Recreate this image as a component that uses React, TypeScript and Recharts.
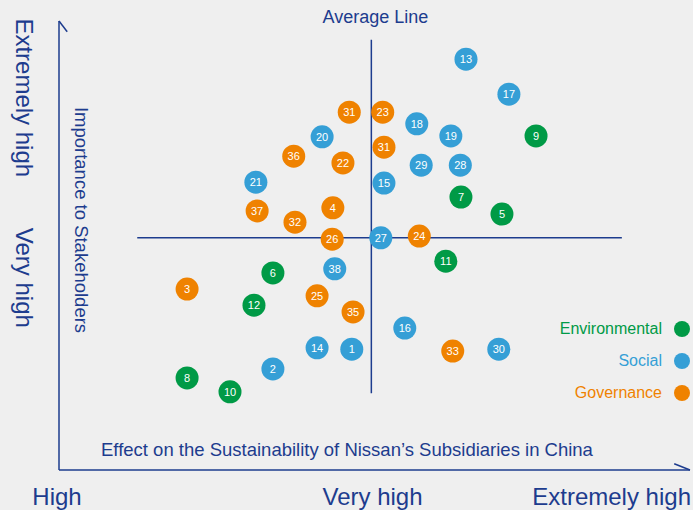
import { ScatterChart, Scatter, XAxis, YAxis, ReferenceLine, Legend } from 'recharts'

const NAVY = '#1d3c8e'
const FONT = '"Liberation Sans", Arial, sans-serif'

// issue number, effect on subsidiaries (x), importance to stakeholders (y), 0-100 scale
const environmental = [
  { id: 9, x: 75.6, y: 74.4 },
  { id: 7, x: 63.7, y: 60.8 },
  { id: 5, x: 70.2, y: 57.0 },
  { id: 11, x: 61.3, y: 46.5 },
  { id: 6, x: 33.9, y: 43.9 },
  { id: 12, x: 30.9, y: 36.7 },
  { id: 8, x: 20.3, y: 20.5 },
  { id: 10, x: 27.1, y: 17.4 },
]

const social = [
  { id: 13, x: 64.5, y: 91.5 },
  { id: 17, x: 71.3, y: 83.7 },
  { id: 18, x: 56.7, y: 77.1 },
  { id: 19, x: 62.1, y: 74.4 },
  { id: 20, x: 41.7, y: 74.2 },
  { id: 29, x: 57.4, y: 67.9 },
  { id: 28, x: 63.6, y: 67.9 },
  { id: 21, x: 31.2, y: 64.1 },
  { id: 15, x: 51.5, y: 63.9 },
  { id: 27, x: 51.0, y: 51.7 },
  { id: 38, x: 43.7, y: 44.8 },
  { id: 16, x: 54.8, y: 31.6 },
  { id: 14, x: 40.9, y: 27.2 },
  { id: 1, x: 46.4, y: 26.9 },
  { id: 30, x: 69.7, y: 26.9 },
  { id: 2, x: 33.9, y: 22.5 },
]

const governance = [
  { id: 31, x: 46.0, y: 79.7 },
  { id: 23, x: 51.3, y: 79.7 },
  { id: 31, x: 51.5, y: 71.9 },
  { id: 36, x: 37.2, y: 69.9 },
  { id: 22, x: 45.0, y: 68.4 },
  { id: 37, x: 31.4, y: 57.7 },
  { id: 4, x: 43.4, y: 58.4 },
  { id: 32, x: 37.4, y: 55.2 },
  { id: 26, x: 43.3, y: 51.4 },
  { id: 24, x: 57.1, y: 52.1 },
  { id: 3, x: 20.3, y: 40.3 },
  { id: 25, x: 40.9, y: 38.8 },
  { id: 35, x: 46.6, y: 35.2 },
  { id: 33, x: 62.4, y: 26.5 },
]

const seriesNames = ['Environmental', 'Social', 'Governance']
const seriesColors = ['#009a46', '#359fd6', '#ef8200']

const xTicks = [0, 50, 100]
const xTickLabels = ['High', 'Very high', 'Extremely high']
const yTicks = [42.8, 82.9]
const yTickLabels = ['Very high', 'Extremely high']

// average lines
const avgX = 49.5
const avgY = 51.7
const avgXRange = [17.1, 95.8]
const avgYRange = [12.4, 89.2]

const Bubble = (color: string) => (props: any) => {
  const { cx, cy, payload } = props
  return (
    <g>
      <circle cx={cx} cy={cy} r={11.5} fill={color} />
      <text
        x={cx}
        y={cy + 4}
        textAnchor="middle"
        fill="#fff"
        fontSize={11}
        fontFamily='"Liberation Sans Narrow", "Liberation Sans", sans-serif'
      >
        {payload.id}
      </text>
    </g>
  )
}

const XTick = (props: any) => {
  const { x, y, index } = props
  const last = index === xTickLabels.length - 1
  return (
    <text
      x={last ? x + 10 : x - 2}
      y={y + 33}
      textAnchor={last ? 'end' : 'middle'}
      fill={NAVY}
      fontSize={24}
      fontFamily={FONT}
    >
      {xTickLabels[index]}
    </text>
  )
}

const YTick = (props: any) => {
  const { y, index } = props
  return (
    <text
      x={16}
      y={y}
      textAnchor="middle"
      fill={NAVY}
      fontSize={24}
      fontFamily={FONT}
      transform={`rotate(90, 16, ${y})`}
    >
      {yTickLabels[index]}
    </text>
  )
}

const renderLegend = () => (
  <div style={{ display: 'flex', flexDirection: 'column', alignItems: 'flex-end' }}>
    {seriesNames.map((name, i) => (
      <div
        key={name}
        style={{ height: 32, display: 'flex', alignItems: 'center', fontFamily: FONT, fontSize: 16 }}
      >
        <span style={{ color: seriesColors[i] }}>{name}</span>
        <span
          style={{ width: 16, height: 16, borderRadius: 8, background: seriesColors[i], marginLeft: 12 }}
        />
      </div>
    ))}
  </div>
)

export default function App() {
  return (
    <div
      style={{
        position: 'absolute',
        left: 0,
        top: 0,
        width: 693,
        height: 510,
        background: '#efefef',
        fontFamily: FONT,
      }}
    >
      <ScatterChart width={693} height={510} margin={{ top: 21, right: 3, left: 0, bottom: 0 }}>
        <XAxis
          type="number"
          dataKey="x"
          domain={[0, 100]}
          ticks={xTicks}
          height={40}
          tickSize={0}
          tickLine={false}
          axisLine={{ stroke: NAVY, strokeWidth: 1.5 }}
          tick={<XTick />}
          label={{
            content: ({ viewBox }: any) => (
              <text x={viewBox.x + 42} y={viewBox.y - 14} fill={NAVY} fontSize={18.5} fontFamily={FONT}>
                Effect on the Sustainability of Nissan’s Subsidiaries in China
              </text>
            ),
          }}
        />
        <YAxis
          type="number"
          dataKey="y"
          domain={[0, 100]}
          ticks={yTicks}
          width={59}
          tickSize={0}
          tickLine={false}
          axisLine={{ stroke: NAVY, strokeWidth: 1.5 }}
          tick={<YTick />}
          label={{
            content: ({ viewBox }: any) => {
              const lx = viewBox.x + viewBox.width + 16
              const ly = viewBox.y + 199
              return (
                <text
                  x={lx}
                  y={ly}
                  textAnchor="middle"
                  fill={NAVY}
                  fontSize={18.5}
                  fontFamily={FONT}
                  transform={`rotate(90, ${lx}, ${ly})`}
                >
                  Importance to Stakeholders
                </text>
              )
            },
          }}
        />
        {/* arrowheads */}
        <ReferenceLine
          segment={[{ x: 0, y: 100 }, { x: 1.3, y: 97.6 }]}
          stroke={NAVY}
          strokeWidth={1.5}
          ifOverflow="visible"
        />
        <ReferenceLine
          segment={[{ x: 97.5, y: 1.4 }, { x: 100, y: 0 }]}
          stroke={NAVY}
          strokeWidth={1.5}
          ifOverflow="visible"
        />
        <ReferenceLine
          segment={[{ x: avgYRange[0], y: avgY }, { x: avgYRange[1], y: avgY }]}
          stroke={NAVY}
          strokeWidth={1.5}
        />
        <ReferenceLine
          segment={[{ x: avgX, y: avgXRange[0] }, { x: avgX, y: avgXRange[1] }]}
          stroke={NAVY}
          strokeWidth={1.5}
          label={{
            content: ({ viewBox }: any) => (
              <text x={viewBox.x + 4} y={viewBox.y - 17} textAnchor="middle" fill={NAVY} fontSize={18} fontFamily={FONT}>
                Average Line
              </text>
            ),
          }}
        />
        <Scatter name={seriesNames[0]} data={environmental} fill={seriesColors[0]} shape={Bubble(seriesColors[0])} isAnimationActive={false} />
        <Scatter name={seriesNames[1]} data={social} fill={seriesColors[1]} shape={Bubble(seriesColors[1])} isAnimationActive={false} />
        <Scatter name={seriesNames[2]} data={governance} fill={seriesColors[2]} shape={Bubble(seriesColors[2])} isAnimationActive={false} />
        <Legend
          layout="vertical"
          align="center"
          verticalAlign="middle"
          content={renderLegend}
          wrapperStyle={{ left: 490, top: 313, width: 200 }}
        />
      </ScatterChart>
    </div>
  )
}
